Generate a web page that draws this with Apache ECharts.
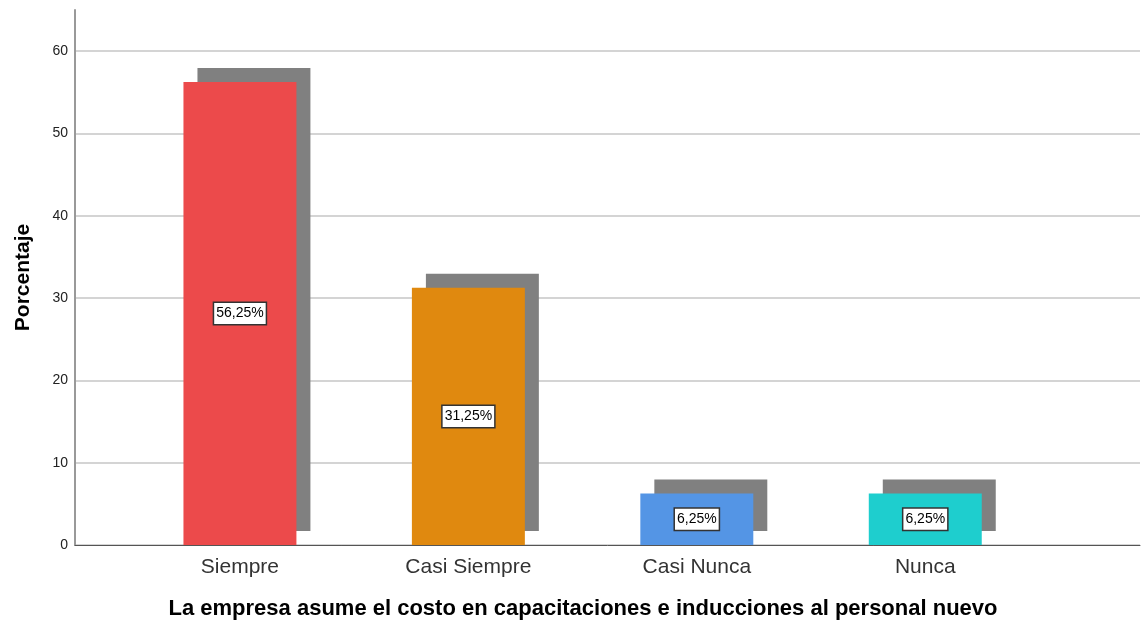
<!DOCTYPE html>
<html>
<head>
<meta charset="utf-8">
<script src="https://cdn.jsdelivr.net/npm/echarts@6/dist/echarts.min.js"></script>
<style>
  html, body { margin: 0; padding: 0; background: #fff; }
  #chart { width: 1141px; height: 624px; }
</style>
</head>
<body>
<div id="chart"></div>
<script>
var categorias = ['Siempre', 'Casi Siempre', 'Casi Nunca', 'Nunca'];
var porcentajes = [56.25, 31.25, 6.25, 6.25];
var colores = ['#EC4A4B', '#E0890F', '#5495E5', '#1ECECE'];
var etiquetas = ['56,25%', '31,25%', '6,25%', '6,25%'];

var el = echarts.init(document.getElementById('chart'));

var datos = [];
for (var i = 0; i < categorias.length; i++) {
    datos.push([i + 1, porcentajes[i]]);
}

function dibujar(params, api) {
    var x = api.value(0), v = api.value(1);
    var tope = api.coord([x, v]);
    var base = api.coord([x, 0]);
    var ancho = api.size([0.4945, 0])[0];
    var izq = tope[0] - ancho / 2;
    var alto = base[1] - tope[1];
    var d = 14;
    var medio = api.coord([x, v / 2]);
    return {
        type: 'group',
        children: [
            { type: 'rect', shape: { x: izq + d, y: tope[1] - d, width: ancho, height: alto },
              style: { fill: '#808080' } },
            { type: 'rect', shape: { x: izq, y: tope[1], width: ancho, height: alto },
              style: { fill: colores[params.dataIndex] } },
            { type: 'text', x: medio[0], y: medio[1],
              style: { text: etiquetas[params.dataIndex], align: 'center', verticalAlign: 'middle',
                       fontSize: 14, fontFamily: 'Liberation Sans', fill: '#000',
                       backgroundColor: '#fff', borderColor: '#333', borderWidth: 1.5,
                       padding: [4, 2, 3, 2] } }
        ]
    };
}

el.setOption({
    animation: false,
    grid: { left: 75, right: 1, top: 10, bottom: 79, outerBoundsMode: 'none', containLabel: false },
    xAxis: {
        type: 'value',
        min: 0.278,
        max: 4.94,
        axisLine: { show: true, lineStyle: { color: '#555', width: 1 } },
        axisTick: { show: false },
        splitLine: { show: false },
        axisLabel: {
            customValues: [1, 2, 3, 4],
            formatter: function (v) { return categorias[Math.round(v) - 1] || ''; },
            fontSize: 21, fontFamily: 'Liberation Sans', color: '#333', margin: 12
        }
    },
    yAxis: {
        type: 'value',
        min: 0,
        max: 65,
        interval: 10,
        name: 'Porcentaje',
        nameLocation: 'middle',
        nameGap: 41,
        nameTextStyle: { fontSize: 21, fontWeight: 'bold', fontFamily: 'Liberation Sans', color: '#000' },
        axisLine: { show: true, lineStyle: { color: '#999', width: 2 } },
        axisTick: { show: false },
        splitLine: { showMaxLine: false, lineStyle: { color: '#d4d4d4', width: 2 } },
        axisLabel: { showMaxLabel: false, fontSize: 14, fontFamily: 'Liberation Sans', color: '#222', margin: 7 }
    },
    graphic: [{
        type: 'text',
        x: 583, y: 609,
        style: {
            text: 'La empresa asume el costo en capacitaciones e inducciones al personal nuevo',
            align: 'center', verticalAlign: 'middle',
            fontSize: 22, fontWeight: 'bold', fontFamily: 'Liberation Sans', fill: '#000'
        }
    }],
    series: [{
        type: 'custom',
        renderItem: dibujar,
        data: datos,
        encode: { x: 0, y: 1 }
    }]
});
</script>
</body>
</html>
